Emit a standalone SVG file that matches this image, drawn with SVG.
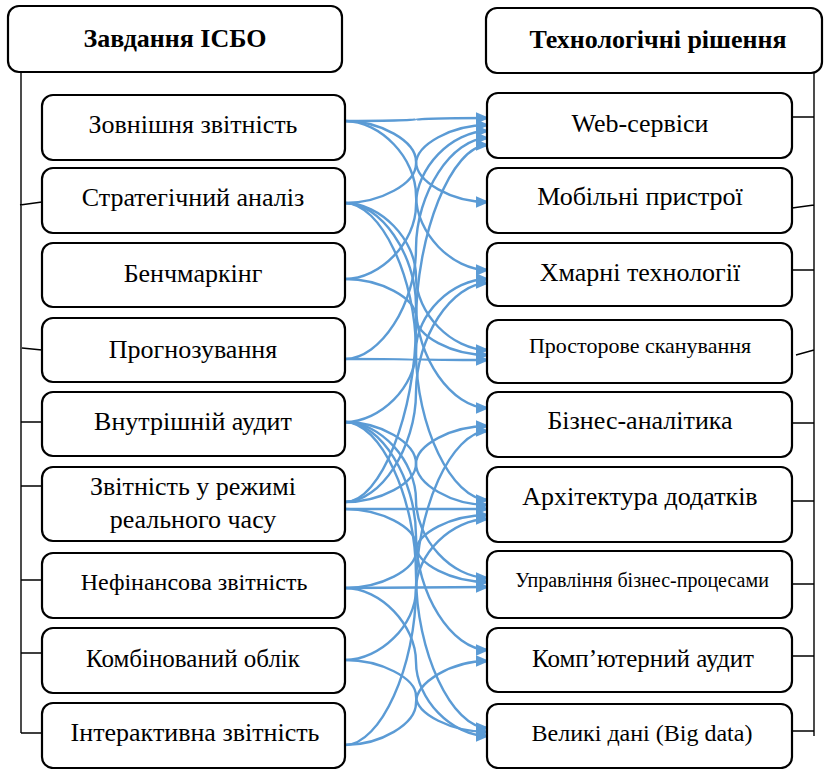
<svg xmlns="http://www.w3.org/2000/svg" width="824" height="769" viewBox="0 0 824 769">
<defs>
<style>
.box{fill:#fff;stroke:#000;stroke-width:2.2}
.t{font-family:"Liberation Serif","Times New Roman",serif;font-size:26px;fill:#000;text-anchor:middle}
.b{font-weight:bold}
.frame{stroke:#000;stroke-width:1.4;fill:none}
.c{fill:none;stroke:#5B9BD5;stroke-width:2.4;marker-end:url(#ah)}
</style>
<marker id="ah" markerUnits="userSpaceOnUse" markerWidth="14" markerHeight="12" viewBox="0 0 14 12" refX="12.5" refY="6" orient="auto">
<path d="M0,0 L14,6 L0,12 z" fill="#5B9BD5"/>
</marker>
</defs>
<rect width="824" height="769" fill="#fff"/>

<g id="frame">
<path class="frame" d="M21,72 V733 M20,205 L42,202 M22,348 L42,350 M21,422 H42 M21,486 H42 M21,580 H42 M21,653 H42 M21,733 H42"/>
<path class="frame" d="M814,73 V736 M792,117 H814 M792,208 L814,205 M792,270 H814 M796,355 L814,350 M792,423 H814 M792,501 H814 M792,584 H814 M792,656 H814 M792,731 H814"/>
</g>

<g id="connectors">
<path class="c" d="M345,121 C380.5,121 416,120.25 416,119.5 C416,118.75 451.5,118 488,118"/>
<path class="c" d="M345,121 C380.5,121 416,141.25 416,161.5 C416,181.75 451.5,202 488,202"/>
<path class="c" d="M345,121 C380.5,121 416,158.25 416,195.5 C416,232.75 451.5,270 488,270"/>
<path class="c" d="M345,203 C380.5,203 416,183.5 416,164 C416,144.5 451.5,125 488,125"/>
<path class="c" d="M345,203 C380.5,203 416,239.75 416,276.5 C416,313.25 451.5,350 488,350"/>
<path class="c" d="M345,203 C380.5,203 416,254.25 416,305.5 C416,356.75 451.5,408 488,408"/>
<path class="c" d="M345,203 C380.5,203 416,277.25 416,351.5 C416,425.75 451.5,500 488,500"/>
<path class="c" d="M345,279 C380.5,279 416,242 416,205 C416,168 451.5,131 488,131"/>
<path class="c" d="M345,279 C380.5,279 416,298 416,317 C416,336 451.5,355 488,355"/>
<path class="c" d="M345,359 C380.5,359 416,303.75 416,248.5 C416,193.25 451.5,138 488,138"/>
<path class="c" d="M345,359 C380.5,359 416,359.25 416,359.5 C416,359.75 451.5,360 488,360"/>
<path class="c" d="M345,422 C380.5,422 416,386.25 416,350.5 C416,314.75 451.5,279 488,279"/>
<path class="c" d="M345,422 C380.5,422 416,442.75 416,463.5 C416,484.25 451.5,505 488,505"/>
<path class="c" d="M345,422 C380.5,422 416,461 416,500 C416,539 451.5,578 488,578"/>
<path class="c" d="M345,422 C380.5,422 416,479 416,536 C416,593 451.5,650 488,650"/>
<path class="c" d="M345,422 C380.5,422 416,498.5 416,575 C416,651.5 451.5,728 488,728"/>
<path class="c" d="M345,502 C380.5,502 416,412.75 416,323.5 C416,234.25 451.5,145 488,145"/>
<path class="c" d="M345,502 C380.5,502 416,483 416,464 C416,445 451.5,426 488,426"/>
<path class="c" d="M345,502 C380.5,502 416,447.25 416,392.5 C416,337.75 451.5,283 488,283"/>
<path class="c" d="M345,509 C380.5,509 451.5,509 488,509"/>
<path class="c" d="M345,509 C380.5,509 416,527.25 416,545.5 C416,563.75 451.5,582 488,582"/>
<path class="c" d="M345,588 C380.5,588 416,569.75 416,551.5 C416,533.25 451.5,515 488,515"/>
<path class="c" d="M345,588 C380.5,588 451.5,587 488,587"/>
<path class="c" d="M345,588 C380.5,588 416,625 416,662 C416,699 451.5,736 488,736"/>
<path class="c" d="M345,660 C380.5,660 416,624.75 416,589.5 C416,554.25 451.5,519 488,519"/>
<path class="c" d="M345,660 C380.5,660 416,678 416,696 C416,714 451.5,732 488,732"/>
<path class="c" d="M345,745 C380.5,745 416,666.5 416,588 C416,509.5 451.5,431 488,431"/>
<path class="c" d="M345,745 C380.5,745 416,724 416,703 C416,682 451.5,661 488,661"/>
</g>

<g id="h-left"><rect class="box" x="8" y="6" width="334" height="66" rx="11"/><text class="t b" x="175" y="47">Завдання ІСБО</text></g>
<g id="h-right"><rect class="box" x="486" y="8" width="336" height="65" rx="11"/><text class="t b" x="658" y="48">Технологічні рішення</text></g>

<g id="l1"><rect class="box" x="42" y="95" width="303" height="65" rx="11"/><text class="t" x="193" y="133">Зовнішня звітність</text></g>
<g id="l2"><rect class="box" x="42" y="168" width="303" height="65" rx="11"/><text class="t" x="193" y="206">Стратегічний аналіз</text></g>
<g id="l3"><rect class="box" x="42" y="243" width="303" height="64" rx="11"/><text class="t" x="193" y="282">Бенчмаркінг</text></g>
<g id="l4"><rect class="box" x="42" y="318" width="303" height="64" rx="11"/><text class="t" x="193" y="358">Прогнозування</text></g>
<g id="l5"><rect class="box" x="42" y="392" width="303" height="64" rx="11"/><text class="t" x="193" y="430">Внутрішній аудит</text></g>
<g id="l6"><rect class="box" x="42" y="467" width="303" height="74" rx="11"/><text class="t" x="193" y="495">Звітність у режимі</text><text class="t" x="193" y="528">реального часу</text></g>
<g id="l7"><rect class="box" x="42" y="553" width="303" height="65" rx="11"/><text class="t" x="194" y="590" style="font-size:24px">Нефінансова звітність</text></g>
<g id="l8"><rect class="box" x="42" y="628" width="303" height="65" rx="11"/><text class="t" x="193" y="667" style="font-size:25px">Комбінований облік</text></g>
<g id="l9"><rect class="box" x="42" y="703" width="303" height="65" rx="11"/><text class="t" x="195" y="741">Інтерактивна звітність</text></g>

<g id="r1"><rect class="box" x="487" y="93" width="305" height="65" rx="11"/><text class="t" x="640" y="132">Web-сервіси</text></g>
<g id="r2"><rect class="box" x="487" y="168" width="305" height="65" rx="11"/><text class="t" x="640" y="205">Мобільні пристрої</text></g>
<g id="r3"><rect class="box" x="487" y="243" width="305" height="63" rx="11"/><text class="t" x="640" y="281">Хмарні технології</text></g>
<g id="r4"><rect class="box" x="487" y="320" width="305" height="63" rx="11"/><text class="t" x="640" y="353" style="font-size:22px">Просторове сканування</text></g>
<g id="r5"><rect class="box" x="487" y="392" width="305" height="65" rx="11"/><text class="t" x="640" y="429">Бізнес-аналітика</text></g>
<g id="r6"><rect class="box" x="487" y="467" width="305" height="75" rx="11"/><text class="t" x="640" y="505">Архітектура додатків</text></g>
<g id="r7"><rect class="box" x="487" y="551" width="305" height="67" rx="11"/><text class="t" x="642" y="587" style="font-size:20px">Управління бізнес-процесами</text></g>
<g id="r8"><rect class="box" x="487" y="628" width="305" height="64" rx="11"/><text class="t" x="643" y="667" style="font-size:25px">Комп’ютерний аудит</text></g>
<g id="r9"><rect class="box" x="487" y="704" width="305" height="64" rx="11"/><text class="t" x="642" y="741" style="font-size:24px">Великі дані (Big data)</text></g>
</svg>
